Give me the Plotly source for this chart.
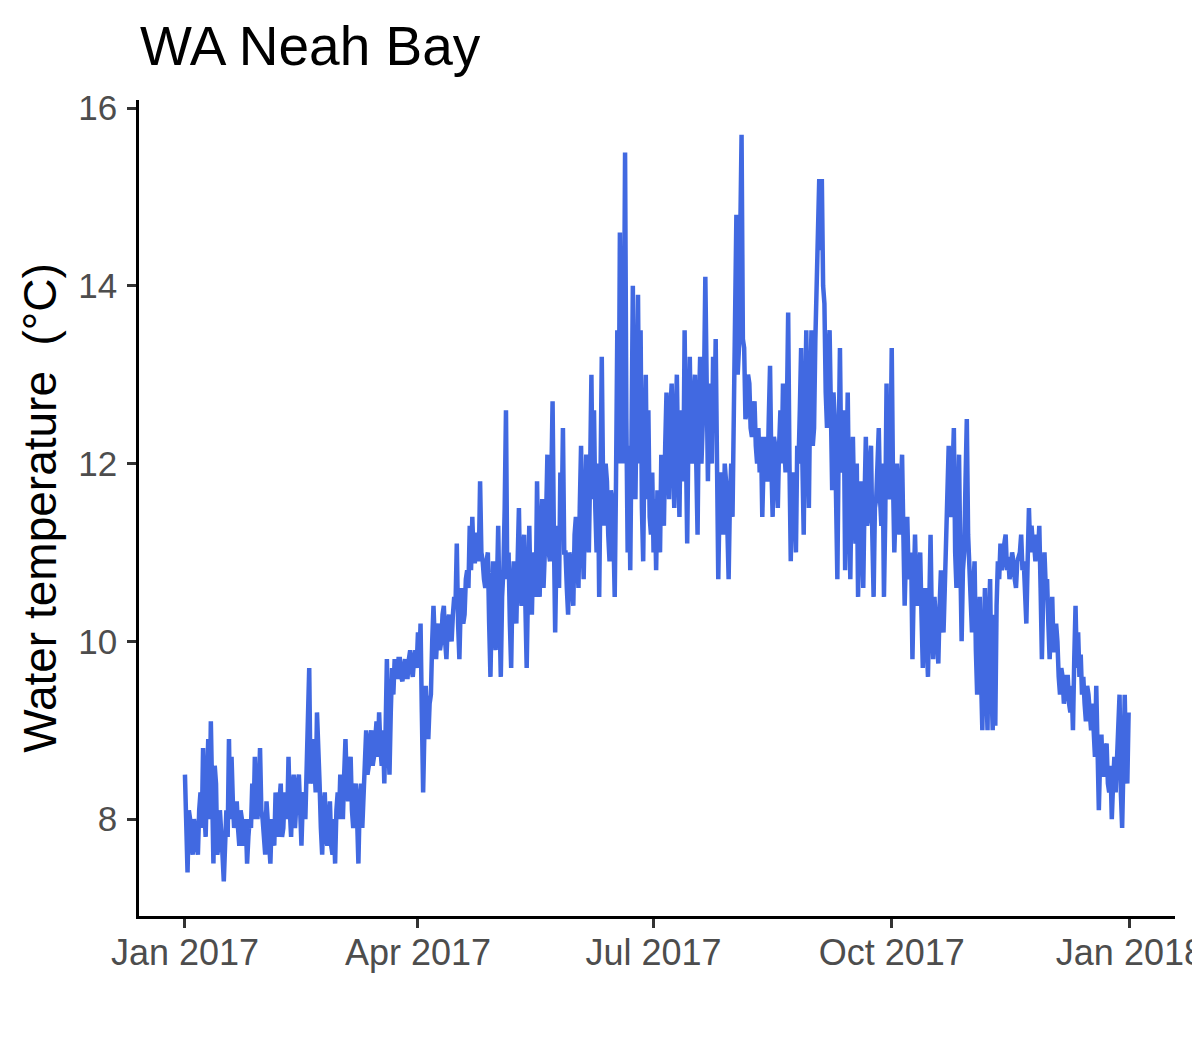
import pandas as pd
import plotly.graph_objects as go

# water temperature (deg C), two readings a day:
# *_am at 00:00 and *_pm at 12:00, one pair of lists per month of 2017
jan_am = [8.5, 7.4, 8.0, 7.6, 7.9, 7.6, 8.3, 8.8, 7.8, 8.9, 9.1, 7.5, 8.4, 7.7, 7.9, 7.3,
          8.1, 8.9, 8.7, 7.9, 8.2, 7.7, 8.0, 7.8, 7.5, 8.0, 8.4, 8.7, 8.0, 8.8, 8.0]
jan_pm = [7.8, 8.1, 7.7, 8.0, 7.7, 8.1, 7.9, 8.1, 8.4, 8.0, 8.3, 8.6, 7.6, 8.1, 7.6, 7.9,
          7.8, 8.0, 8.2, 8.1, 7.9, 8.1, 7.7, 8.0, 7.8, 7.9, 8.0, 8.2, 8.3, 8.1, 7.8]
feb_am = [7.6, 8.0, 7.5, 7.9, 8.3, 7.8, 8.4, 7.9, 8.2, 8.7, 7.8, 8.5, 8.2, 8.5, 7.7, 8.3,
          8.6, 9.7, 8.5, 8.6, 9.2, 8.4, 7.6, 8.3, 7.7, 8.2, 7.6, 7.5]
feb_pm = [8.2, 7.7, 8.0, 7.7, 8.0, 8.2, 7.8, 8.3, 8.0, 8.1, 8.3, 7.9, 8.4, 8.0, 8.2, 8.0,
          8.9, 8.4, 8.9, 8.3, 8.5, 7.9, 8.1, 7.8, 8.0, 7.7, 8.0, 8.1]
mar_am = [8.3, 8.5, 8.0, 8.9, 8.2, 8.7, 7.9, 8.4, 7.5, 8.4, 8.3, 9.0, 8.6, 9.0, 8.7, 9.1,
          9.2, 8.6, 8.4, 9.8, 8.5, 9.7, 9.8, 9.6, 9.8, 9.55, 9.8, 9.6, 9.9, 9.6, 9.9]
mar_pm = [8.0, 8.2, 8.5, 8.4, 8.6, 8.1, 8.3, 8.0, 8.2, 7.9, 8.6, 8.5, 8.9, 8.6, 8.9, 8.7,
          8.8, 9.0, 9.0, 8.9, 9.2, 9.4, 9.6, 9.8, 9.6, 9.7, 9.6, 9.8, 9.7, 9.8, 9.7]
apr_am = [10.1, 10.2, 8.3, 9.5, 8.9, 9.4, 10.4, 9.8, 10.2, 10.0, 10.4, 9.8, 10.3, 10.0, 10.5,
          11.1, 9.8, 10.6, 10.3, 10.8, 11.3, 11.4, 10.9, 11.2, 11.8, 10.9, 10.6, 11.0, 9.6, 10.9]
apr_pm = [9.7, 9.2, 9.0, 9.1, 9.3, 10.0, 10.0, 10.1, 9.9, 10.3, 10.0, 10.2, 10.1, 10.3, 10.4,
          10.2, 10.4, 10.2, 10.7, 10.6, 10.8, 10.9, 11.2, 10.9, 11.0, 10.7, 10.9, 10.2, 10.4, 10.2]
may_am = [9.9, 11.3, 9.6, 10.8, 12.6, 11.0, 9.7, 10.9, 10.2, 11.5, 10.4, 11.2, 9.7, 11.3, 10.3,
          10.9, 11.8, 10.5, 11.6, 10.9, 12.1, 10.9, 12.7, 10.1, 11.3, 11.9, 12.4, 11.0, 10.3, 10.9, 10.4]
may_pm = [10.6, 10.3, 10.5, 11.5, 10.7, 10.2, 10.6, 10.4, 10.9, 10.6, 11.0, 10.4, 10.6, 10.5, 11.0,
          10.5, 10.9, 11.2, 10.6, 11.4, 11.0, 11.8, 11.2, 11.0, 10.6, 11.3, 11.0, 10.6, 11.0, 10.6, 11.2]
jun_am = [11.4, 10.6, 12.2, 10.7, 12.1, 11.0, 13.0, 12.6, 11.0, 10.5, 13.2, 11.3, 11.8, 10.9, 11.6,
          10.5, 13.5, 14.6, 12.0, 15.5, 11.0, 10.8, 14.0, 11.6, 13.9, 13.5, 10.9, 13.0, 12.6, 11.2]
jun_pm = [10.9, 11.5, 11.2, 11.4, 11.4, 11.9, 11.6, 11.5, 12.0, 11.8, 11.8, 12.0, 11.2, 11.7, 11.2,
          11.8, 12.0, 12.8, 13.0, 12.5, 12.2, 12.3, 11.8, 12.8, 12.0, 11.5, 12.2, 11.6, 11.4, 11.9]
jul_am = [11.0, 10.8, 11.5, 12.1, 11.3, 12.8, 11.6, 12.9, 11.5, 13.0, 11.4, 12.5, 13.5, 11.1, 13.2,
          12.0, 13.0, 11.2, 13.2, 12.4, 14.1, 11.8, 12.5, 13.2, 13.4, 10.7, 11.9, 11.2, 11.8, 10.7, 12.0]
jul_pm = [11.6, 11.7, 11.0, 11.6, 12.2, 12.0, 12.6, 12.1, 12.4, 12.0, 12.6, 11.8, 12.2, 12.4, 12.2,
          12.7, 12.0, 12.6, 12.0, 12.9, 12.4, 12.9, 12.0, 12.4, 12.0, 11.6, 11.5, 12.0, 11.3, 11.6, 11.4]
aug_am = [12.5, 14.8, 13.3, 15.7, 13.3, 12.6, 12.9, 12.3, 12.7, 12.0, 11.9, 11.4, 12.3, 11.8, 13.1,
          11.4, 12.2, 11.5, 12.6, 12.9, 11.9, 13.7, 10.9, 11.9, 11.0, 12.0, 13.3, 11.2, 13.5, 11.5, 13.5]
aug_pm = [13.6, 13.0, 14.6, 13.4, 12.5, 13.0, 12.4, 12.6, 12.2, 12.4, 12.3, 12.0, 11.9, 12.5, 12.0,
          12.3, 11.8, 12.2, 12.0, 12.2, 12.6, 12.0, 11.8, 11.5, 12.2, 12.6, 12.0, 12.6, 12.2, 12.8, 12.2]
sep_am = [12.4, 14.2, 15.2, 15.2, 13.8, 12.4, 13.5, 11.7, 12.5, 10.7, 13.3, 11.9, 10.8, 12.8, 10.7,
          12.3, 11.1, 10.5, 11.8, 10.6, 12.3, 11.4, 12.2, 10.5, 11.6, 12.4, 11.3, 10.5, 12.9, 11.6]
sep_pm = [13.4, 14.6, 14.4, 14.0, 12.8, 13.2, 12.6, 12.8, 11.6, 12.2, 12.0, 12.6, 11.8, 11.6, 11.8,
          11.5, 12.0, 11.4, 11.2, 11.6, 11.3, 12.0, 11.2, 11.5, 12.0, 11.6, 12.0, 11.4, 11.7, 12.0]
oct_am = [13.3, 11.0, 12.0, 11.2, 12.1, 10.4, 11.4, 10.7, 9.8, 11.2, 10.4, 11.0, 9.7, 10.6, 9.6,
          11.2, 9.8, 10.2, 9.75, 10.8, 10.1, 11.3, 12.2, 11.4, 12.4, 10.6, 12.1, 10.0, 11.0, 12.5, 10.8]
oct_pm = [11.8, 11.5, 11.4, 11.7, 11.2, 11.0, 10.8, 11.0, 10.6, 10.6, 10.8, 10.3, 10.4, 10.0, 10.4,
          10.2, 10.5, 10.0, 10.4, 10.2, 10.6, 11.6, 11.5, 11.9, 11.0, 11.4, 10.9, 10.8, 11.8, 11.2, 10.3]
nov_am = [10.1, 10.9, 9.4, 10.5, 9.0, 10.6, 9.0, 10.7, 9.0, 9.05, 10.9, 11.1, 10.9, 11.2, 10.95,
          10.8, 10.9, 10.6, 10.95, 11.2, 10.9, 10.2, 11.5, 11.3, 11.1, 11.2, 11.3, 9.8, 11.0, 10.7]
nov_pm = [10.6, 9.9, 10.2, 9.6, 9.9, 9.5, 10.2, 9.5, 10.3, 10.4, 10.7, 10.8, 11.1, 10.8, 10.7,
          11.0, 10.7, 10.9, 11.0, 10.8, 10.6, 10.9, 11.0, 11.1, 10.9, 11.0, 10.6, 10.5, 10.6, 10.2]
dec_am = [9.8, 10.5, 9.9, 10.0, 9.4, 9.6, 9.4, 9.6, 9.2, 9.0, 10.4, 10.1, 9.85, 9.6, 9.1, 9.4,
          9.0, 8.95, 9.5, 8.1, 8.95, 8.5, 8.85, 8.3, 8.0, 8.7, 8.6, 9.4, 7.9, 9.4, 8.4]
dec_pm = [10.2, 9.9, 10.2, 9.6, 9.7, 9.3, 9.6, 9.3, 9.5, 9.8, 9.7, 9.6, 9.4, 9.3, 9.5, 9.2,
          9.3, 8.7, 8.6, 8.7, 8.5, 8.8, 8.4, 8.6, 8.4, 8.3, 8.9, 8.3, 8.6, 8.6, 9.2]

months = [(jan_am, jan_pm), (feb_am, feb_pm), (mar_am, mar_pm), (apr_am, apr_pm),
          (may_am, may_pm), (jun_am, jun_pm), (jul_am, jul_pm), (aug_am, aug_pm),
          (sep_am, sep_pm), (oct_am, oct_pm), (nov_am, nov_pm), (dec_am, dec_pm)]

tick_dates = ["2017-01-01", "2017-04-01", "2017-07-01", "2017-10-01", "2018-01-01"]
tick_text = ["Jan 2017", "Apr 2017", "Jul 2017", "Oct 2017", "Jan 2018"]
y_ticks = [8, 10, 12, 14, 16]

dates = []
temps = []
for i, (am, pm) in enumerate(months):
    days = pd.date_range(pd.Timestamp(2017, i + 1, 1), periods=len(am), freq="D")
    for d, a, p in zip(days, am, pm):
        dates += [d, d + pd.Timedelta(hours=12)]
        temps += [a, p]

FONT = "Liberation Sans, Arial, Helvetica, sans-serif"

fig = go.Figure()
fig.add_trace(go.Scatter(
    x=dates, y=temps, mode="lines",
    line=dict(color="#4169E1", width=4.5),
    showlegend=False,
))

# the page adds an 8px body margin, so everything is placed 8px up/left
fig.update_layout(
    width=1200, height=1050,
    margin=dict(l=131, r=33, t=92, b=142),
    paper_bgcolor="white", plot_bgcolor="white",
    font=dict(family=FONT),
    title=dict(
        text="WA Neah Bay",
        font=dict(size=55, color="black", family=FONT),
        x=132 / 1200, xanchor="left", xref="container",
        y=1 - 57 / 1050, yanchor="bottom", yref="container",
    ),
)

fig.update_xaxes(
    range=["2016-12-14 06:00", "2018-01-18 10:00"],
    tickvals=tick_dates, ticktext=tick_text,
    showgrid=False, zeroline=False, automargin=False,
    showline=True, linecolor="black", linewidth=2.5,
    ticks="outside", ticklen=9, tickwidth=2.5, tickcolor="#333333",
    tickfont=dict(size=36, color="#4D4D4D", family=FONT),
    ticklabelstandoff=-6, ticklabeloverflow="allow",
)
fig.update_yaxes(
    range=[6.91, 16.09],
    tickvals=y_ticks,
    showgrid=False, zeroline=False, automargin=False,
    showline=True, linecolor="black", linewidth=2.5,
    ticks="outside", ticklen=9, tickwidth=2.5, tickcolor="#333333",
    tickfont=dict(size=35, color="#4D4D4D", family=FONT),
    ticklabelstandoff=3,
    title=dict(text="Water temperature \u00a0(°C)",
               font=dict(size=46, color="black", family=FONT),
               standoff=8),
)

fig.write_html("out.html")
